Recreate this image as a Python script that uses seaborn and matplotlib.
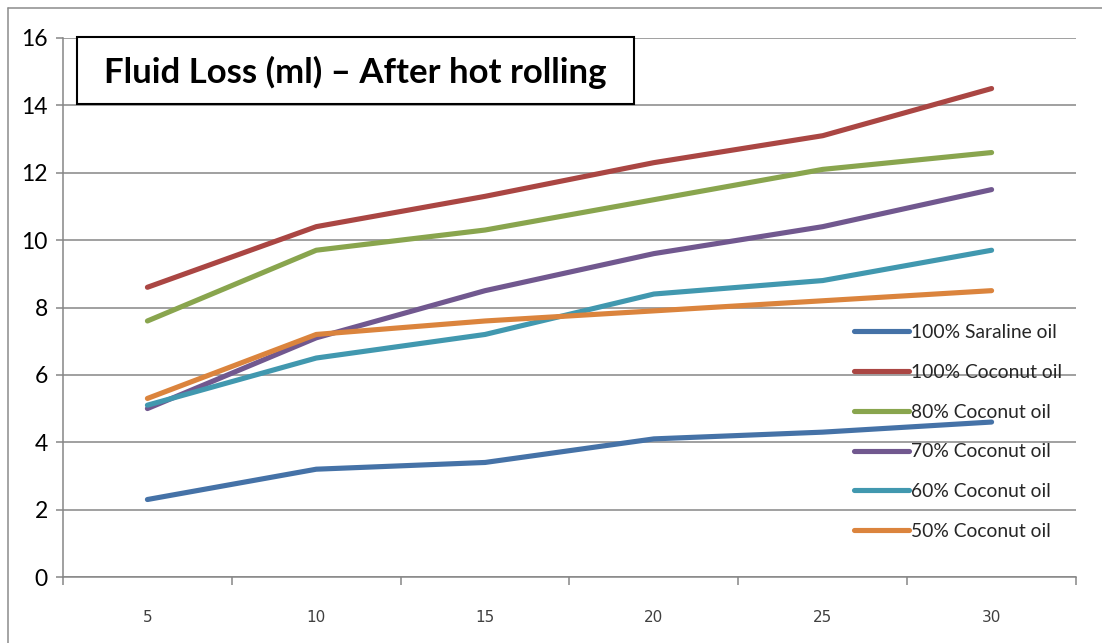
import matplotlib
matplotlib.use("Agg")
import matplotlib.pyplot as plt
from matplotlib.patches import Rectangle
from matplotlib.lines import Line2D
import pandas as pd
import seaborn as sns

# Fluid loss (ml) after hot rolling, per time step
minutes = [5, 10, 15, 20, 25, 30]
saraline_100 = [2.3, 3.2, 3.4, 4.1, 4.3, 4.6]
coconut_100 = [8.6, 10.4, 11.3, 12.3, 13.1, 14.5]
coconut_80 = [7.6, 9.7, 10.3, 11.2, 12.1, 12.6]
coconut_70 = [5.0, 7.1, 8.5, 9.6, 10.4, 11.5]
coconut_60 = [5.1, 6.5, 7.2, 8.4, 8.8, 9.7]
coconut_50 = [5.3, 7.2, 7.6, 7.9, 8.2, 8.5]

series_names = ["100% Saraline oil", "100% Coconut oil", "80% Coconut oil",
                "70% Coconut oil", "60% Coconut oil", "50% Coconut oil"]
series_values = [saraline_100, coconut_100, coconut_80,
                 coconut_70, coconut_60, coconut_50]
colors = ["#4572A7", "#AA4643", "#89A54E", "#71588F", "#4198AF", "#DB843D"]
y_ticks = [0, 2, 4, 6, 8, 10, 12, 14, 16]
title = "Fluid Loss (ml) \u2013 After hot rolling"

rows = []
for name, vals in zip(series_names, series_values):
    for i, (m, v) in enumerate(zip(minutes, vals)):
        rows.append({"pos": i, "minutes": m, "value": v, "series": name})
df = pd.DataFrame(rows)

sns.set_style("white")
plt.rcParams["font.family"] = ["Lato", "DejaVu Sans"]

W, H = 1102, 643
fig = plt.figure(figsize=(W / 100, H / 100), dpi=100)
ax = fig.add_axes([63 / W, 1 - 577 / H, (1076 - 63) / W, (577 - 38) / H])

grid_c = "#868686"
sns.lineplot(data=df, x="pos", y="value", hue="series", hue_order=series_names,
             palette=colors, linewidth=3.7, ax=ax, solid_capstyle="round",
             legend=True)

n = len(minutes)
ax.set_xlim(-0.5, n - 0.5)
ax.set_ylim(0, 16)
ax.set_xlabel("")
ax.set_ylabel("")

# y axis
ax.set_yticks(y_ticks)
ax.set_yticklabels([str(t) for t in y_ticks], fontsize=16.5, color="#000000")
ax.yaxis.grid(True, color=grid_c, linewidth=1.1)
ax.set_axisbelow(True)
ax.tick_params(axis="y", which="major", direction="out", length=5, width=1.1,
               color=grid_c, pad=6, left=True)

# x axis: tick marks between categories, labels centred on categories
ax.set_xticks([i - 0.5 for i in range(n + 1)])
ax.set_xticklabels([""] * (n + 1))
ax.set_xticks(list(range(n)), minor=True)
ax.set_xticklabels([str(m) for m in minutes], minor=True,
                   fontsize=11, color="#404040", family="DejaVu Sans")
ax.tick_params(axis="x", which="major", direction="out", length=6, width=1.1,
               color=grid_c, bottom=True)
ax.tick_params(axis="x", which="minor", length=0, pad=24)
ax.xaxis.grid(False)

for side in ["top", "right"]:
    ax.spines[side].set_visible(False)
for side in ["left", "bottom"]:
    ax.spines[side].set_color(grid_c)
    ax.spines[side].set_linewidth(1.1)

# legend
handles, labels = ax.get_legend_handles_labels()
for h in handles:
    h.set_linewidth(3.7)
    h.set_solid_capstyle("round")
ax.legend(handles, labels, loc="upper left",
          bbox_to_anchor=(854 / W, 1 - 324 / H), bbox_transform=fig.transFigure,
          frameon=False, fontsize=13.9, handlelength=2.85, handletextpad=0.12,
          labelspacing=1.18, borderpad=0, borderaxespad=0)

# title box
box = Rectangle((77 / W, 1 - 104 / H), (634 - 77) / W, (104 - 37) / H,
                transform=fig.transFigure, facecolor="white", edgecolor="black",
                linewidth=1.5, zorder=5)
fig.add_artist(box)
fig.text((77 + 634) / 2 / W, 1 - 72 / H, title, ha="center", va="center",
         fontsize=25, fontweight="bold", color="black", zorder=6)

# outer chart frame
frame_c = "#8c8c8c"
fig.add_artist(Line2D([8 / W, 1], [1 - 8 / H, 1 - 8 / H], transform=fig.transFigure,
                      color=frame_c, linewidth=1.1))
fig.add_artist(Line2D([8 / W, 8 / W], [1 - 8 / H, 0], transform=fig.transFigure,
                      color=frame_c, linewidth=1.1))

fig.savefig("out.png", dpi=100, facecolor="white")
